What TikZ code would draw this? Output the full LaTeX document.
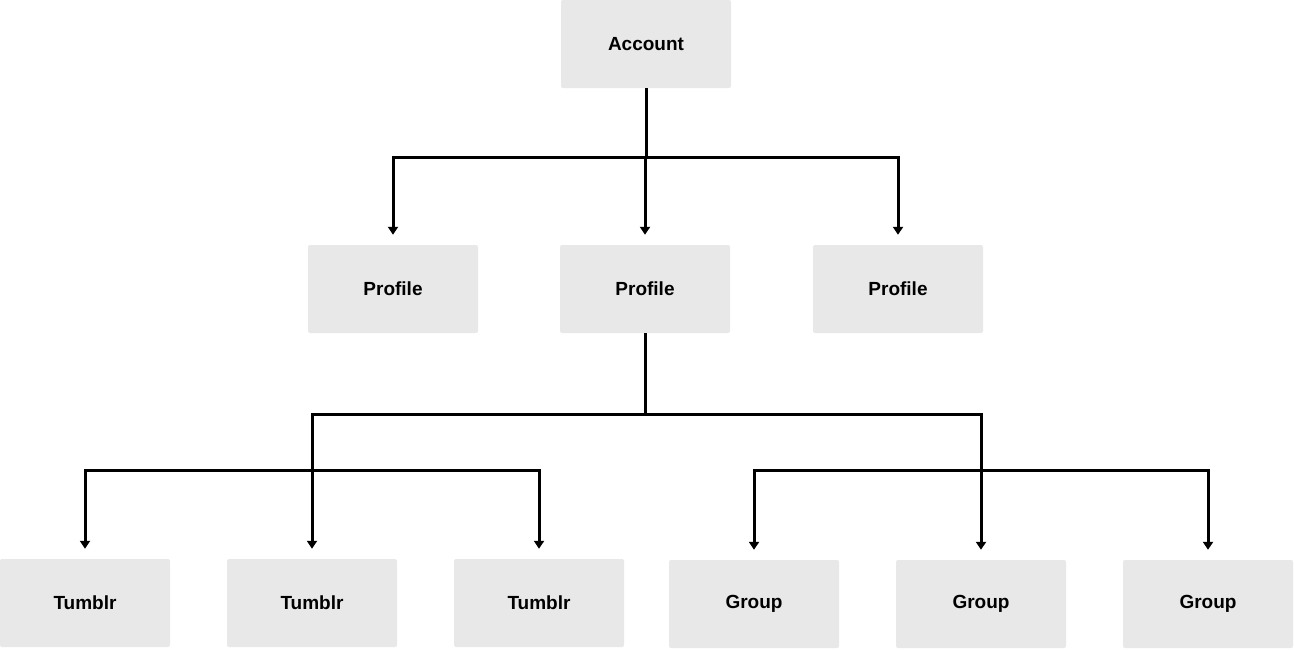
\documentclass[tikz,border=0pt]{standalone}
\usepackage{fontspec}
\setmainfont{Liberation Sans}
\usetikzlibrary{arrows.meta}
\definecolor{boxgray}{HTML}{E8E8E8}
\begin{document}
\begin{tikzpicture}[x=1pt,y=-1pt,
    box/.style={fill=boxgray,rounded corners=2pt,minimum width=170pt,minimum height=88pt,inner sep=0pt,font=\fontsize{19}{22}\selectfont\bfseries},
    link/.style={line width=3pt},
    arr/.style={link,-{Triangle[width=10pt,length=8pt]},shorten >=10pt}]
        \useasboundingbox (0,0) rectangle (1294,649);
        \node[box] (acc) at (646,44) {Account};
        \foreach \x/\n in {393/1,645/2,898/3}
            \node[box] (p\n) at (\x,289) {Profile};
        \foreach \x/\n in {85/1,312/2,539/3}
            \node[box] (t\n) at (\x,603) {Tumblr};
        \foreach \x/\n in {754/1,981/2,1208/3}
            \node[box] (g\n) at (\x,604) {Group};
        % account to profiles
        \coordinate (j0) at (646,157);
        \draw[link] (acc.south) -- (j0);
        \foreach \n in {1,2,3}
            \draw[arr] (j0) -| (p\n.north);
        % profile to tumblr and group
        \coordinate (j1) at (p2.south |- 0,414);
        \draw[link] (p2.south) -- (j1);
        \draw[arr] (j1) -| (t2.north);
        \draw[arr] (j1) -| (g2.north);
        \coordinate (jt) at (t2.north |- 0,470);
        \coordinate (jg) at (g2.north |- 0,470);
        \foreach \n in {1,3} {
            \draw[arr] (jt) -| (t\n.north);
            \draw[arr] (jg) -| (g\n.north);
        }
\end{tikzpicture}
\end{document}
